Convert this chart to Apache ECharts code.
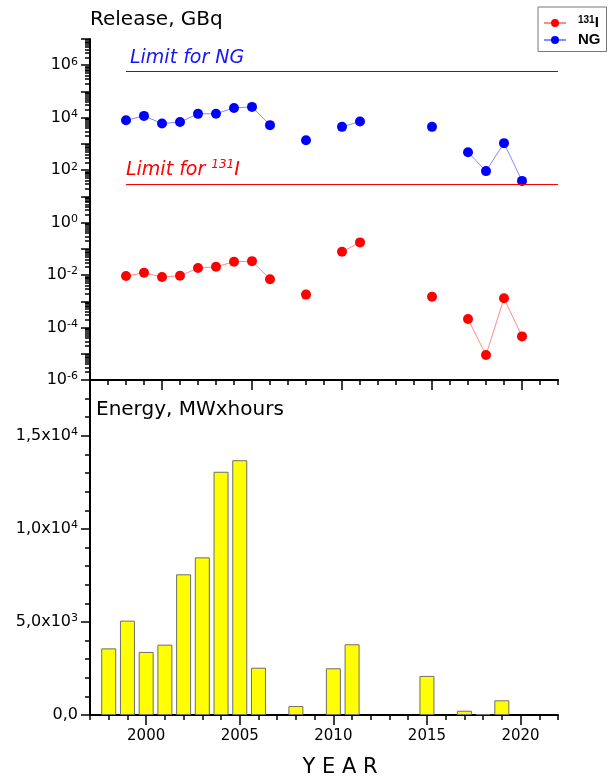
<!DOCTYPE html>
<html><head><meta charset="utf-8">
<script src="https://cdn.jsdelivr.net/npm/echarts@6/dist/echarts.min.js"></script>
<style>html,body{margin:0;padding:0;background:#fff}#c{width:609px;height:778px}</style>
</head><body><div id="c"></div>
<script>
// ---- data ----
const years      = [1998,1999,2000,2001,2002,2003,2004,2005,2006,2007,2008,2009,2010,2011,2012,2013,2014,2015,2016,2017,2018,2019,2020];
const iodine131  = [0.0092,0.0122,0.0084,0.0094,0.0185,0.0207,0.032,0.034,0.0069,null,0.0018,null,0.077,0.176,null,null,null,0.0015,null,0.00021,0.000009,0.0013,0.000046];
const nobleGas   = [8000,11700,6000,6800,14000,14200,23600,25800,5200,null,1390,null,4470,7160,null,null,null,4470,null,485,92,1070,39];
const energy     = [3580,5070,3390,3780,7560,8470,13070,13690,2540,null,480,null,2510,3800,null,null,null,2100,null,230,45,790,null];
const limitNG    = 6e5;
const limitI131  = 30;
const limitYears = [1998, 2022];
const releaseTickLabels = [1e-6,1e-4,1e-2,1,1e2,1e4,1e6];
const energyTickLabels  = [0,5000,10000,15000];
const yearTickLabels    = [2000,2005,2010,2015,2020];

// ---- axis decoration helpers (ticks only) ----
const range = (a,b,s)=>{const r=[];for(let v=a;v<=b;v+=s)r.push(v);return r;};
const decadeTicks = range(-6,7,1).map(e=>Math.pow(10,e));
const minorLogTicks = [];
range(-6,6,1).forEach(e=>{for(let k=2;k<=9;k++) minorLogTicks.push(k*Math.pow(10,e));});
const topYearTicks = range(1996,2022,1);
const botYearTicks = range(1997,2022,1);
const energyMinorTicks = range(0,18000,1000);

const pair = (arr)=>years.map((y,i)=>[y, arr[i]==null?'-':arr[i]]);

const FONT = 'DejaVu Sans';
const supRich = {
  b:{fontFamily:FONT,fontSize:16,color:'#000',lineHeight:18},
  s:{fontFamily:FONT,fontSize:11,color:'#000',lineHeight:11,verticalAlign:'top'}
};
function logLabel(v){const e=Math.round(Math.log10(v));return '{b|10}{s|'+e+'}';}
function sciLabel(v){
  if(v===0) return '{b|0,0}';
  const e=Math.floor(Math.log10(v)+1e-9); const m=(v/Math.pow(10,e)).toFixed(1).replace('.',',');
  return '{b|'+m+'x10}{s|'+e+'}';
}

const axisLineStyle = {color:'#000',width:2};
const chart = echarts.init(document.getElementById('c'),null,{renderer:'canvas'});
chart.setOption({
  animation:false,
  backgroundColor:'#fff',
  textStyle:{fontFamily:FONT},
  grid:[
    {left:90,right:51,top:39,height:341,outerBoundsMode:'none'},
    {left:90,right:51,top:380,bottom:63,outerBoundsMode:'none'}
  ],
  legend:{
    data:['131I','NG'], orient:'vertical', left:538, top:7,
    padding:[8,6,4,5], itemGap:2, itemWidth:22, itemHeight:10,
    borderColor:'#777', borderWidth:1, backgroundColor:'#fff',
    formatter:n=> n==='131I' ? '{s|131}{b|I}' : '{b|NG}',
    textStyle:{padding:[0,0,0,7],rich:{
      b:{fontFamily:'Liberation Sans',fontWeight:'bold',fontSize:15,color:'#000',lineHeight:16},
      s:{fontFamily:'Liberation Sans',fontWeight:'bold',fontSize:10,color:'#000',lineHeight:10,verticalAlign:'top'}
    }}
  },
  graphic:[
    {type:'text',x:90,y:20,style:{text:'Release, GBq',font:'20px "DejaVu Sans"',fill:'#000',align:'left',verticalAlign:'middle'}},
    {type:'text',x:96,y:410,style:{text:'Energy, MWxhours',font:'20px "DejaVu Sans"',fill:'#000',align:'left',verticalAlign:'middle'}}
  ],
  xAxis:[
    {type:'value',gridIndex:0,min:1996,max:2022,position:'bottom',
     axisLine:{lineStyle:axisLineStyle},
     axisTick:{customValues:yearTickLabels,length:10,lineStyle:{color:'#000',width:1.5}},
     axisLabel:{show:false},splitLine:{show:false}},
    {type:'value',gridIndex:0,min:1996,max:2022,position:'bottom',
     axisLine:{show:false},
     axisTick:{customValues:topYearTicks,length:5,lineStyle:{color:'#000',width:1.5}},
     axisLabel:{show:false},splitLine:{show:false}},
    {type:'value',gridIndex:1,min:1997,max:2022,position:'bottom',
     axisLine:{lineStyle:axisLineStyle},
     axisTick:{customValues:yearTickLabels,length:10,lineStyle:{color:'#000',width:1.5}},
     axisLabel:{customValues:yearTickLabels,formatter:v=>String(v),fontFamily:FONT,fontSize:15,color:'#000',margin:14},
     splitLine:{show:false},
     name:'Y E A R',nameLocation:'middle',nameGap:42,
     nameTextStyle:{fontFamily:FONT,fontSize:21,color:'#000',padding:[0,0,0,32]}},
    {type:'value',gridIndex:1,min:1997,max:2022,position:'bottom',
     axisLine:{show:false},
     axisTick:{customValues:botYearTicks,length:5,lineStyle:{color:'#000',width:1.5}},
     axisLabel:{show:false},splitLine:{show:false}}
  ],
  yAxis:[
    {type:'log',logBase:10,gridIndex:0,min:1e-6,max:1e7,position:'left',
     axisLine:{lineStyle:axisLineStyle},
     axisTick:{customValues:decadeTicks,length:9,lineStyle:{color:'#000',width:1.5}},
     axisLabel:{customValues:releaseTickLabels,formatter:logLabel,margin:12,rich:supRich},
     splitLine:{show:false}},
    {type:'log',logBase:10,gridIndex:0,min:1e-6,max:1e7,position:'left',
     axisLine:{show:false},
     axisTick:{customValues:minorLogTicks,length:5,lineStyle:{color:'#000',width:1.5}},
     axisLabel:{show:false},splitLine:{show:false}},
    {type:'value',gridIndex:1,min:0,max:18000,position:'left',
     axisLine:{lineStyle:axisLineStyle},
     axisTick:{customValues:energyTickLabels,length:9,lineStyle:{color:'#000',width:1.5}},
     axisLabel:{customValues:energyTickLabels,formatter:sciLabel,margin:12,rich:supRich},
     splitLine:{show:false}},
    {type:'value',gridIndex:1,min:0,max:18000,position:'left',
     axisLine:{show:false},
     axisTick:{customValues:energyMinorTicks,length:5,lineStyle:{color:'#000',width:1.5}},
     axisLabel:{show:false},splitLine:{show:false}}
  ],
  series:[
    {name:'131I',type:'line',xAxisIndex:0,yAxisIndex:0,data:pair(iodine131),
     symbol:'circle',symbolSize:10,showSymbol:true,connectNulls:false,
     itemStyle:{color:'#ff0000'},lineStyle:{color:'rgba(255,60,60,0.6)',width:1}},
    {name:'NG',type:'line',xAxisIndex:0,yAxisIndex:0,data:pair(nobleGas),
     symbol:'circle',symbolSize:10,showSymbol:true,connectNulls:false,
     itemStyle:{color:'#0000ff'},lineStyle:{color:'rgba(60,60,255,0.6)',width:1}},
    {name:'limitNG',type:'line',xAxisIndex:0,yAxisIndex:0,data:[],
     markLine:{silent:true,symbol:'none',animation:false,
       lineStyle:{color:'#2323a8',width:1,type:'solid'},
       label:{position:'insideStartTop',distance:[4,3],formatter:'Limit for NG',
              fontFamily:FONT,fontStyle:'italic',fontSize:19,color:'#1515ff'},
       data:[[{coord:[limitYears[0],limitNG]},{coord:[limitYears[1],limitNG]}]]}},
    {name:'limitI',type:'line',xAxisIndex:0,yAxisIndex:0,data:[],
     markLine:{silent:true,symbol:'none',animation:false,
       lineStyle:{color:'#ff0000',width:1,type:'solid'},
       label:{position:'insideStartTop',distance:[0,3],formatter:'{t|Limit for }{s|131}{t|I}',
              rich:{t:{fontFamily:FONT,fontStyle:'italic',fontSize:19,color:'#ff0000',lineHeight:22},
                    s:{fontFamily:FONT,fontStyle:'italic',fontSize:12,color:'#ff0000',lineHeight:12,verticalAlign:'top'}}},
       data:[[{coord:[limitYears[0],limitI131]},{coord:[limitYears[1],limitI131]}]]}},
    {name:'Energy',type:'bar',xAxisIndex:2,yAxisIndex:2,data:pair(energy),barWidth:15,
     itemStyle:{color:'#ffff00',borderColor:'#6e6e6e',borderWidth:1}}
  ]
});
</script></body></html>
